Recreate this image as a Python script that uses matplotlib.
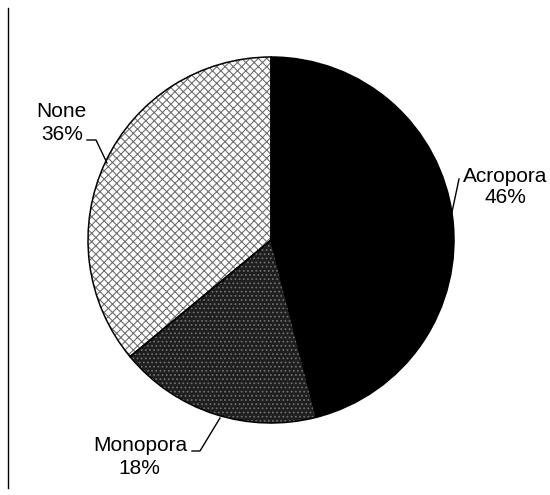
import matplotlib.pyplot as plt

labels = ['Acropora', 'Monopora', 'None']
values = [46, 18, 36]
pct_text = ['46%', '18%', '36%']

plt.rcParams['font.family'] = ['Liberation Sans', 'DejaVu Sans']
plt.rcParams['hatch.linewidth'] = 0.8

H = 495
fig = plt.figure(figsize=(5.5, 4.95), dpi=100)
ax = fig.add_axes([0, 0, 1, 1])

cx, cy, r = 271, H - 240, 183

# base fills
ax.pie(values, startangle=90, counterclock=False,
       center=(cx, cy), radius=r, frame=True,
       colors=['black', '#1e1e1e', 'white'],
       wedgeprops=dict(linewidth=0))
# hatch layers
hatches = [None, '....', 'xxxx']
hcolors = ['black', '#6e6e6e', '#707070']
hw, _ = ax.pie(values, startangle=90, counterclock=False,
               center=(cx, cy), radius=r, frame=True,
               wedgeprops=dict(fill=False, linewidth=0))
for w, h, c in zip(hw, hatches, hcolors):
    if h:
        w.set_hatch(h)
        w.set_edgecolor(c)
# outlines
ax.pie(values, startangle=90, counterclock=False,
       center=(cx, cy), radius=r, frame=True,
       wedgeprops=dict(fill=False, linewidth=1.1, edgecolor='black'))
ax.set_xlim(0, 550)
ax.set_ylim(0, H)
ax.set_aspect('equal')
ax.axis('off')

# left border line
ax.plot([8, 8], [H - 8, H - 488], color='black', lw=1)

fs = 15
# Acropora
ax.text(505.5, H - 182, labels[0], ha='center', va='baseline', fontsize=fs)
ax.text(505.5, H - 203, pct_text[0], ha='center', va='baseline', fontsize=fs)
ax.plot([459, 452], [H - 179, H - 212], color='black', lw=1)

# None
ax.text(61.5, H - 117, labels[2], ha='center', va='baseline', fontsize=fs)
ax.text(62.5, H - 140, pct_text[2], ha='center', va='baseline', fontsize=fs)
ax.plot([87, 96, 107], [H - 140, H - 140, H - 163], color='black', lw=1)

# Monopora
ax.text(140.5, H - 451, labels[1], ha='center', va='baseline', fontsize=fs)
ax.text(139.5, H - 474, pct_text[1], ha='center', va='baseline', fontsize=fs)
ax.plot([192, 200, 220], [H - 451, H - 451, H - 418], color='black', lw=1)

fig.savefig('out.png', dpi=100)
